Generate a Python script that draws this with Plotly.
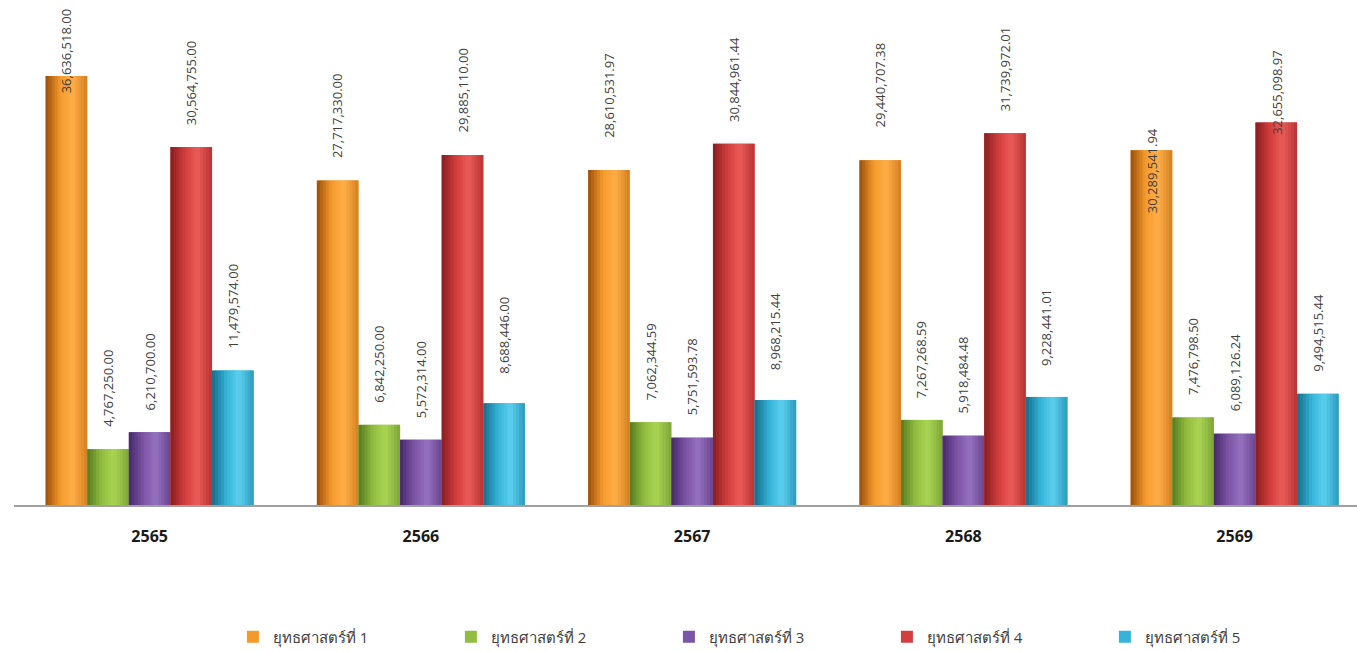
import plotly.graph_objects as go

years = ["2565", "2566", "2567", "2568", "2569"]
series_names = ["ยุทธศาสตร์ที่ 1", "ยุทธศาสตร์ที่ 2", "ยุทธศาสตร์ที่ 3", "ยุทธศาสตร์ที่ 4", "ยุทธศาสตร์ที่ 5"]
s1 = [36636518.00, 27717330.00, 28610531.97, 29440707.38, 30289541.94]
s2 = [4767250.00, 6842250.00, 7062344.59, 7267268.59, 7476798.50]
s3 = [6210700.00, 5572314.00, 5751593.78, 5918484.48, 6089126.24]
s4 = [30564755.00, 29885110.00, 30844961.44, 31739972.01, 32655098.97]
s5 = [11479574.00, 8688446.00, 8968215.44, 9228441.01, 9494515.44]
series = [s1, s2, s3, s4, s5]

# styles
main_colors = ["#F39A2C", "#92BE40", "#7C55A6", "#D33E3E", "#35B3D8"]
dark_colors = ["#9A4E0C", "#557A20", "#46296A", "#861E1E", "#176C88"]
light_colors = ["#FFAE48", "#AAD454", "#9672C0", "#EA5C58", "#5CCFEE"]
W = 0.1534  # bar width in category units
N_STRIPS = 14
FONT = "'Open Sans', 'Noto Sans', sans-serif"
LABEL_COLOR = "#404040"
default_gap = 20
gap_override = {(0, 0): -19, (4, 0): -65, (4, 3): -14, (2, 0): 30, (3, 0): 31,
                (1, 4): 27, (2, 4): 28, (3, 4): 29}


def hex2rgb(h):
    h = h.lstrip("#")
    return [int(h[j:j + 2], 16) for j in (0, 2, 4)]


def mix(a, b, t):
    return [a[j] + (b[j] - a[j]) * t for j in range(3)]


def shade(i, t):
    d, m, l = hex2rgb(dark_colors[i]), hex2rgb(main_colors[i]), hex2rgb(light_colors[i])
    edge = mix(m, d, 0.35)
    if t < 0.35:
        c = mix(d, m, t / 0.35)
    elif t < 0.65:
        c = mix(m, l, (t - 0.35) / 0.30)
    else:
        c = mix(l, edge, (t - 0.65) / 0.35)
    return "rgb(%d,%d,%d)" % tuple(round(v) for v in c)


fig = go.Figure()
for i, (name, vals) in enumerate(zip(series_names, series)):
    base_off = (i - 2.5) * W
    fig.add_trace(go.Bar(x=years, y=vals, name=name, width=W, offset=base_off,
                         marker=dict(color=main_colors[i], line=dict(width=0)),
                         hoverinfo="y+name"))
    step = W / N_STRIPS
    for s in range(N_STRIPS):
        t = (s + 0.5) / N_STRIPS
        wdt = step * (1.25 if s < N_STRIPS - 1 else 1.0)
        fig.add_trace(go.Bar(x=years, y=vals, width=wdt, offset=base_off + s * step,
                             marker=dict(color=shade(i, t), line=dict(width=0)),
                             showlegend=False, hoverinfo="skip"))

annotations = []
for i, vals in enumerate(series):
    for k, v in enumerate(vals):
        gap = gap_override.get((k, i), default_gap)
        annotations.append(dict(
            x=k + (i - 2) * W, y=v, xref="x", yref="y",
            text=f"{v:,.2f}", showarrow=False, textangle=-90,
            xanchor="center", yanchor="bottom", yshift=gap,
            font=dict(family=FONT, size=13, color=LABEL_COLOR)))

fig.update_layout(
    width=1357, height=651,
    margin=dict(l=14, r=0, t=0, b=146, autoexpand=False),
    barmode="overlay",
    plot_bgcolor="white", paper_bgcolor="white",
    annotations=annotations,
    showlegend=True,
    legend=dict(orientation="h", x=0.163, xanchor="left", y=-0.2614, yanchor="middle",
                entrywidth=173, entrywidthmode="pixels",
                font=dict(family=FONT, size=15, color=LABEL_COLOR), traceorder="normal"),
    xaxis=dict(type="category", range=[-0.5, 4.451], showline=True, linecolor="#A0A0A0",
               linewidth=2, showgrid=False, zeroline=False, ticks="",
               ticklabelstandoff=16,
               tickfont=dict(family=FONT, size=16, color="#1A1A1A", weight="bold")),
    yaxis=dict(range=[0, 43.12e6], visible=False, showgrid=False, zeroline=False),
)

fig.write_html("out.html")
